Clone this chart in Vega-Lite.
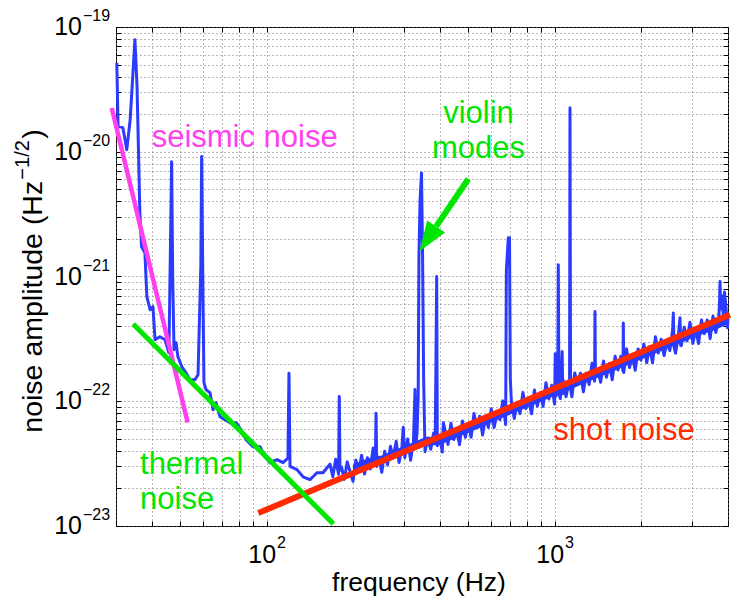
{
  "$schema": "https://vega.github.io/schema/vega-lite/v6.json",
  "width": 612,
  "height": 499,
  "autosize": {"type": "none"},
  "padding": {"left": 116, "top": 27, "right": 4, "bottom": 72},
  "background": "white",
  "config": {
    "view": {"stroke": "black", "strokeWidth": 1},
    "font": "Liberation Sans"
  },
  "datasets": {
    "band": [
      {"f":199.5,"lo":2.649e-23,"hi":3.112e-23},{"f":223.9,"lo":2.965e-23,"hi":3.484e-23},{"f":251.2,"lo":3.126e-23,"hi":3.672e-23},{"f":281.8,"lo":3.499e-23,"hi":4.111e-23},{"f":316.2,"lo":3.908e-23,"hi":4.591e-23},{"f":354.8,"lo":4.375e-23,"hi":5.14e-23},{"f":398.1,"lo":4.467e-23,"hi":5.248e-23},{"f":446.7,"lo":4.989e-23,"hi":5.862e-23},{"f":501.2,"lo":5.585e-23,"hi":6.561e-23},{"f":562.3,"lo":6.238e-23,"hi":7.328e-23},{"f":631.0,"lo":7.063e-23,"hi":8.298e-23},{"f":707.9,"lo":7.889e-23,"hi":9.268e-23},{"f":794.3,"lo":8.831e-23,"hi":1.0375e-22},{"f":891.3,"lo":9.863e-23,"hi":1.1587e-22},{"f":1000,"lo":1.1044e-22,"hi":1.2974e-22},{"f":1122,"lo":1.2335e-22,"hi":1.4492e-22},{"f":1259,"lo":1.3802e-22,"hi":1.6215e-22},{"f":1413,"lo":1.5417e-22,"hi":1.8112e-22},{"f":1585,"lo":1.7262e-22,"hi":2.028e-22},{"f":1778,"lo":1.9273e-22,"hi":2.2643e-22},{"f":1995,"lo":2.158e-22,"hi":2.5353e-22},{"f":2239,"lo":2.4098e-22,"hi":2.8312e-22},{"f":2512,"lo":2.6977e-22,"hi":3.1693e-22},{"f":2818,"lo":3.0132e-22,"hi":3.54e-22},{"f":3162,"lo":3.373e-22,"hi":3.9627e-22},{"f":3548,"lo":3.6812e-22,"hi":4.3248e-22},{"f":3981,"lo":4.1212e-22,"hi":4.8418e-22}
    ],
    "noise": [
      {"f":30.2,"a":5.15e-20},{"f":30.5,"a":1.6e-20},{"f":31.7,"a":1.56e-20},{"f":32.7,"a":1.04e-20},{"f":33.6,"a":1.81e-20},{"f":34.9,"a":7.91e-20},{"f":35.5,"a":3.34e-20},{"f":36.3,"a":3.25e-21},{"f":36.8,"a":1.73e-21},{"f":37.8,"a":1.55e-21},{"f":38.4,"a":6.88e-22},{"f":39.4,"a":5.42e-22},{"f":40.3,"a":5.73e-22},{"f":41.0,"a":3.11e-22},{"f":42.6,"a":3.29e-22},{"f":44.4,"a":3.11e-22},{"f":45.8,"a":2.45e-22},{"f":46.4,"a":2.0e-21},{"f":46.8,"a":8.32e-21},{"f":47.2,"a":1.0e-21},{"f":47.7,"a":2.59e-22},{"f":48.5,"a":2.95e-22},{"f":49.2,"a":2.28e-22},{"f":50.8,"a":1.89e-22},{"f":52.5,"a":1.69e-22},{"f":54.2,"a":1.49e-22},{"f":56.4,"a":1.49e-22},{"f":57.8,"a":1.63e-22},{"f":59.1,"a":1.2e-21},{"f":59.5,"a":9.18e-21},{"f":60.0,"a":1.2e-21},{"f":60.6,"a":1.41e-22},{"f":61.6,"a":1.24e-22},{"f":63.6,"a":1.17e-22},{"f":65.2,"a":8.55e-23},{"f":66.7,"a":9.73e-23},{"f":68.9,"a":7.52e-23},{"f":71.7,"a":7.11e-23},{"f":74.6,"a":6.73e-23},{"f":78.3,"a":6.73e-23},{"f":81.5,"a":5.91e-23},{"f":84.8,"a":4.92e-23},{"f":89.7,"a":4.32e-23},{"f":94.9,"a":4.32e-23},{"f":98.7,"a":3.59e-23},{"f":102.8,"a":3.22e-23},{"f":108.7,"a":3.4e-23},{"f":114.0,"a":3.22e-23},{"f":118.6,"a":3.5e-23},{"f":119.6,"a":1.68e-22},{"f":120.6,"a":3.0e-23},{"f":127.5,"a":2.83e-23},{"f":133.8,"a":2.48e-23},{"f":141.5,"a":2.35e-23},{"f":149.6,"a":2.67e-23},{"f":157.0,"a":2.67e-23},
      {"f":166.0,"a":3.133e-23},{"f":169.8,"a":2.483e-23},{"f":173.8,"a":3.428e-23},{"f":177.8,"a":2.6e-23},{"f":178.8,"a":1.09e-22},{"f":179.8,"a":2.8e-23},{"f":182.0,"a":2.979e-23},{"f":186.2,"a":2.366e-23},{"f":190.5,"a":3.266e-23},{"f":195.0,"a":2.716e-23},{"f":199.5,"a":2.28e-23},{"f":204.2,"a":3.373e-23},{"f":208.9,"a":2.742e-23},{"f":213.8,"a":3.69e-23},{"f":218.8,"a":2.612e-23},{"f":223.9,"a":3.524e-23},{"f":229.1,"a":2.864e-23},{"f":234.4,"a":4.227e-23},{"f":238.5,"a":3.2e-23},{"f":239.9,"a":8.0e-23},{"f":241.3,"a":3.0e-23},{"f":245.5,"a":3.556e-23},{"f":251.2,"a":2.692e-23},{"f":257.0,"a":3.981e-23},{"f":263.0,"a":3.09e-23},{"f":269.2,"a":4.355e-23},{"f":275.4,"a":3.54e-23},{"f":281.8,"a":4.775e-23},{"f":288.4,"a":3.228e-23},{"f":295.1,"a":4.345e-23},{"f":298.3,"a":6.2e-23},{"f":302.0,"a":3.532e-23},{"f":309.0,"a":4.989e-23},{"f":316.2,"a":3.365e-23},{"f":323.6,"a":4.753e-23},{"f":327.6,"a":1.24e-22},{"f":330.0,"a":4.5e-23},{"f":333.0,"a":5.5e-23},{"f":336.0,"a":1.1e-22},{"f":338.0,"a":1.4e-21},{"f":341.0,"a":4.0e-21},{"f":345.0,"a":6.76e-21},{"f":348.0,"a":1.5e-21},{"f":351.0,"a":1.5e-22},{"f":354.8,"a":3.945e-23},{"f":363.1,"a":5.082e-23},{"f":371.5,"a":4.121e-23},{"f":380.2,"a":5.559e-23},{"f":385.0,"a":4.6e-23},{"f":389.6,"a":1.0e-21},{"f":391.5,"a":4.4e-23},{"f":398.1,"a":5.309e-23},{"f":407.4,"a":3.926e-23},{"f":410.8,"a":6.73e-23},{"f":416.9,"a":5.808e-23},{"f":426.6,"a":4.508e-23},{"f":436.5,"a":6.653e-23},{"f":446.7,"a":4.932e-23},{"f":457.1,"a":5.794e-23},{"f":467.7,"a":4.487e-23},{"f":478.6,"a":6.95e-23},{"f":489.8,"a":5.152e-23},{"f":501.2,"a":6.637e-23},{"f":512.9,"a":5.14e-23},{"f":524.8,"a":7.962e-23},{"f":537.0,"a":6.18e-23},{"f":549.5,"a":7.586e-23},{"f":562.3,"a":5.37e-23},{"f":575.4,"a":7.586e-23},{"f":588.8,"a":6.166e-23},{"f":602.6,"a":8.69e-23},{"f":616.6,"a":6.152e-23},{"f":631.0,"a":8.017e-23},{"f":645.7,"a":7.129e-23},{"f":660.7,"a":1.007e-22},{"f":676.1,"a":6.501e-23},{"f":680.0,"a":1.13e-21},{"f":690.6,"a":2.04e-21},{"f":697.3,"a":2.04e-21},{"f":702.0,"a":1.5e-22},{"f":707.9,"a":9.817e-23},{"f":724.4,"a":7.278e-23},{"f":741.3,"a":9.817e-23},{"f":758.6,"a":7.962e-23},{"f":776.2,"a":1.178e-22},{"f":794.3,"a":8.73e-23},{"f":812.8,"a":1.023e-22},{"f":831.8,"a":7.943e-23},{"f":851.1,"a":1.23e-22},{"f":871.0,"a":9.12e-23},{"f":891.3,"a":1.172e-22},{"f":912.0,"a":9.099e-23},{"f":933.3,"a":1.409e-22},{"f":955.0,"a":1.042e-22},{"f":977.2,"a":1.343e-22},{"f":1000,"a":9.506e-23},{"f":1005,"a":2.4e-22},{"f":1010,"a":1.1e-22},{"f":1025,"a":1.2e-22},{"f":1030,"a":1.24e-21},{"f":1035,"a":1.15e-22},{"f":1047,"a":1.05e-22},{"f":1062,"a":2.5e-22},{"f":1068,"a":1.15e-22},{"f":1072,"a":1.469e-22},{"f":1096,"a":1.089e-22},{"f":1122,"a":1.466e-22},{"f":1127,"a":1.3e-22},{"f":1131,"a":2.25e-20},{"f":1136,"a":1.25e-22},{"f":1148,"a":1.086e-22},{"f":1175,"a":1.683e-22},{"f":1202,"a":1.365e-22},{"f":1230,"a":1.679e-22},{"f":1259,"a":1.189e-22},{"f":1288,"a":1.675e-22},{"f":1318,"a":1.361e-22},{"f":1349,"a":2.014e-22},{"f":1377,"a":1.45e-22},{"f":1381,"a":5.25e-22},{"f":1386,"a":1.6e-22},{"f":1413,"a":1.75e-22},{"f":1445,"a":1.422e-22},{"f":1479,"a":2.104e-22},{"f":1514,"a":1.556e-22},{"f":1549,"a":2.004e-22},{"f":1585,"a":1.486e-22},{"f":1622,"a":2.296e-22},{"f":1660,"a":1.782e-22},{"f":1698,"a":2.296e-22},{"f":1728,"a":1.75e-22},{"f":1732,"a":4.24e-22},{"f":1738,"a":1.7e-22},{"f":1778,"a":2.63e-22},{"f":1820,"a":1.862e-22},{"f":1862,"a":2.291e-22},{"f":1905,"a":1.774e-22},{"f":1950,"a":2.624e-22},{"f":1995,"a":2.133e-22},{"f":2042,"a":2.871e-22},{"f":2089,"a":2.032e-22},{"f":2138,"a":2.742e-22},{"f":2188,"a":2.032e-22},{"f":2239,"a":3.289e-22},{"f":2291,"a":2.438e-22},{"f":2344,"a":3.141e-22},{"f":2399,"a":2.323e-22},{"f":2455,"a":2.992e-22},{"f":2512,"a":2.547e-22},{"f":2570,"a":3.758e-22},{"f":2583,"a":5.1e-22},{"f":2600,"a":2.7e-22},{"f":2630,"a":2.427e-22},{"f":2692,"a":3.428e-22},{"f":2725,"a":4.68e-22},{"f":2740,"a":2.8e-22},{"f":2754,"a":2.786e-22},{"f":2818,"a":3.926e-22},{"f":2884,"a":3.048e-22},{"f":2951,"a":4.305e-22},{"f":3020,"a":2.904e-22},{"f":3090,"a":3.741e-22},{"f":3162,"a":2.904e-22},{"f":3236,"a":4.487e-22},{"f":3311,"a":3.483e-22},{"f":3388,"a":4.487e-22},{"f":3467,"a":3.177e-22},{"f":3548,"a":4.797e-22},{"f":3631,"a":3.556e-22},{"f":3715,"a":4.581e-22},{"f":3740,"a":6.5e-22},{"f":3752,"a":9.1e-22},{"f":3775,"a":5.5e-22},{"f":3802,"a":7.0e-22},{"f":3850,"a":5.0e-22},{"f":3890,"a":7.5e-22},{"f":3940,"a":5.5e-22},{"f":3981,"a":3.89e-22},{"f":4000,"a":4.6e-22}
    ],
    "seismic": [{"f":29.0,"a":2.24e-20},{"f":53.2,"a":6.76e-23}],
    "thermal": [{"f":34.4,"a":4.16e-22},{"f":170.6,"a":1.04e-23}],
    "shot": [{"f":93.6,"a":1.27e-23},{"f":4064,"a":4.94e-22}],
    "arrow": [{"f":501.5,"a":6.05e-21,"f2":388.0,"a2":2.521e-21}],
    "head": [{"f":362.6,"a":2.0e-21}],
    "ylab": [{"f":30,"a":1e-19,"e":"−19"},{"f":30,"a":1e-20,"e":"−20"},{"f":30,"a":1e-21,"e":"−21"},{"f":30,"a":1e-22,"e":"−22"},{"f":30,"a":1e-23,"e":"−23"}],
    "xlab": [{"f":100,"a":1e-23,"e":"2"},{"f":1000,"a":1e-23,"e":"3"}]
  },
  "encoding": {
    "x": {"field": "f", "type": "quantitative", "scale": {"type": "log", "domain": [30, 4000], "nice": false}, "axis": null},
    "y": {"field": "a", "type": "quantitative", "scale": {"type": "log", "domain": [1e-23, 1e-19], "nice": false}, "axis": null}
  },
  "layer": [
    {
      "data": {"name": "band"},
      "mark": {"type": "area", "color": "#2a3aff", "opacity": 1},
      "encoding": {
        "y": {"field": "lo", "type": "quantitative", "scale": {"type": "log", "domain": [1e-23, 1e-19], "nice": false}, "axis": null},
        "y2": {"field": "hi"}
      }
    },
    {
      "data": {"name": "noise"},
      "mark": {"type": "line", "color": "#2a3aff", "strokeWidth": 3, "strokeJoin": "round", "clip": false},
      "encoding": {
        "x": {"field": "f", "type": "quantitative", "scale": {"type": "log", "domain": [30, 4000], "nice": false},
          "axis": {"orient": "bottom", "values": [30,40,50,60,70,80,90,100,200,300,400,500,600,700,800,900,1000,2000,3000,4000], "grid": true, "gridDash": [1,3], "gridColor": "#6e6e6e", "gridWidth": 1, "labels": false, "title": null, "domain": false, "ticks": true, "tickSize": -5, "tickColor": "black"}},
        "y": {"field": "a", "type": "quantitative", "scale": {"type": "log", "domain": [1e-23, 1e-19], "nice": false},
          "axis": {"orient": "left", "values": [1e-23,2e-23,3e-23,4e-23,5e-23,6e-23,7e-23,8e-23,9e-23,1e-22,2e-22,3e-22,4e-22,5e-22,6e-22,7e-22,8e-22,9e-22,1e-21,2e-21,3e-21,4e-21,5e-21,6e-21,7e-21,8e-21,9e-21,1e-20,2e-20,3e-20,4e-20,5e-20,6e-20,7e-20,8e-20,9e-20,1e-19], "grid": true, "gridDash": [1,3], "gridColor": "#6e6e6e", "gridWidth": 1, "labels": false, "title": null, "domain": false, "ticks": true, "tickSize": -5, "tickColor": "black"}}
      }
    },
    {
      "data": {"name": "seismic"},
      "mark": {"type": "line", "color": "#ff40f0", "strokeWidth": 4.5, "strokeCap": "butt", "clip": false},
      "encoding": {
        "x": {"field": "f", "type": "quantitative", "scale": {"type": "log", "domain": [30, 4000], "nice": false},
          "axis": {"orient": "top", "values": [30,40,50,60,70,80,90,100,200,300,400,500,600,700,800,900,1000,2000,3000,4000], "grid": false, "labels": false, "title": null, "domain": false, "ticks": true, "tickSize": -5, "tickColor": "black"}},
        "y": {"field": "a", "type": "quantitative", "scale": {"type": "log", "domain": [1e-23, 1e-19], "nice": false},
          "axis": {"orient": "right", "values": [1e-23,2e-23,3e-23,4e-23,5e-23,6e-23,7e-23,8e-23,9e-23,1e-22,2e-22,3e-22,4e-22,5e-22,6e-22,7e-22,8e-22,9e-22,1e-21,2e-21,3e-21,4e-21,5e-21,6e-21,7e-21,8e-21,9e-21,1e-20,2e-20,3e-20,4e-20,5e-20,6e-20,7e-20,8e-20,9e-20,1e-19], "grid": false, "labels": false, "title": null, "domain": false, "ticks": true, "tickSize": -5, "tickColor": "black"}}
      }
    },
    {
      "data": {"name": "shot"},
      "mark": {"type": "line", "color": "#ff2a00", "strokeWidth": 6, "strokeCap": "butt", "clip": false}
    },
    {
      "data": {"name": "thermal"},
      "mark": {"type": "line", "color": "#00e600", "strokeWidth": 5, "strokeCap": "butt", "clip": false}
    },
    {
      "data": {"name": "arrow"},
      "mark": {"type": "rule", "color": "#00e600", "strokeWidth": 6, "strokeCap": "butt"},
      "encoding": {
        "x2": {"field": "f2"},
        "y2": {"field": "a2"}
      }
    },
    {
      "data": {"name": "head"},
      "mark": {"type": "point", "shape": "M0,-1L0.72,1L-0.72,1Z", "size": 900, "angle": 214, "filled": true, "color": "#00e600", "opacity": 1, "strokeWidth": 0}
    },
    {
      "data": {"values": [{"f": 39.9, "a": 1.09e-20, "t": "seismic noise"}]},
      "mark": {"type": "text", "align": "left", "baseline": "alphabetic", "fontSize": 31, "color": "#ff40f0"},
      "encoding": {"text": {"field": "t"}}
    },
    {
      "data": {"values": [{"f": 544.3, "a": 1.70e-20, "t": "violin"}, {"f": 544.3, "a": 8.91e-21, "t": "modes"}]},
      "mark": {"type": "text", "align": "center", "baseline": "alphabetic", "fontSize": 31, "color": "#00e600"},
      "encoding": {"text": {"field": "t"}}
    },
    {
      "data": {"values": [{"f": 36.35, "a": 2.63e-23, "t": "thermal"}, {"f": 36.35, "a": 1.368e-23, "t": "noise"}]},
      "mark": {"type": "text", "align": "left", "baseline": "alphabetic", "fontSize": 31, "color": "#00e600"},
      "encoding": {"text": {"field": "t"}}
    },
    {
      "data": {"values": [{"f": 989.7, "a": 4.92e-23, "t": "shot noise"}]},
      "mark": {"type": "text", "align": "left", "baseline": "alphabetic", "fontSize": 31, "color": "#ff2a00"},
      "encoding": {"text": {"field": "t"}}
    },
    {
      "data": {"name": "ylab"},
      "mark": {"type": "text", "align": "right", "baseline": "middle", "fontSize": 25, "dx": -34, "color": "black", "text": "10"}
    },
    {
      "data": {"name": "ylab"},
      "mark": {"type": "text", "align": "left", "baseline": "middle", "fontSize": 16, "dx": -33, "dy": -11, "color": "black"},
      "encoding": {"text": {"field": "e"}}
    },
    {
      "data": {"name": "xlab"},
      "mark": {"type": "text", "align": "right", "baseline": "middle", "fontSize": 25, "dx": 9.5, "dy": 28.5, "color": "black", "text": "10"}
    },
    {
      "data": {"name": "xlab"},
      "mark": {"type": "text", "align": "left", "baseline": "middle", "fontSize": 16, "dx": 10.5, "dy": 17, "color": "black"},
      "encoding": {"text": {"field": "e"}}
    },
    {
      "data": {"values": [{"f": 338.1, "a": 1e-23, "t": "frequency (Hz)"}]},
      "mark": {"type": "text", "align": "center", "baseline": "alphabetic", "fontSize": 26.5, "dy": 65, "color": "black"},
      "encoding": {"text": {"field": "t"}}
    },
    {
      "data": {"values": [{"f": 30, "a": 5.6e-23, "t": "noise amplitude (Hz"}]},
      "mark": {"type": "text", "align": "left", "baseline": "alphabetic", "angle": 270, "fontSize": 28.5, "dx": 0, "dy": -74.5, "color": "black"},
      "encoding": {"text": {"field": "t"}}
    },
    {
      "data": {"values": [{"f": 30, "a": 5.6e-23, "t": "−1/2"}]},
      "mark": {"type": "text", "align": "left", "baseline": "alphabetic", "angle": 270, "fontSize": 20, "dx": 253, "dy": -87.5, "color": "black"},
      "encoding": {"text": {"field": "t"}}
    },
    {
      "data": {"values": [{"f": 30, "a": 5.6e-23, "t": ")"}]},
      "mark": {"type": "text", "align": "left", "baseline": "alphabetic", "angle": 270, "fontSize": 28.5, "dx": 294, "dy": -74.5, "color": "black"},
      "encoding": {"text": {"field": "t"}}
    }
  ],
  "resolve": {"axis": {"x": "independent", "y": "independent"}}
}
